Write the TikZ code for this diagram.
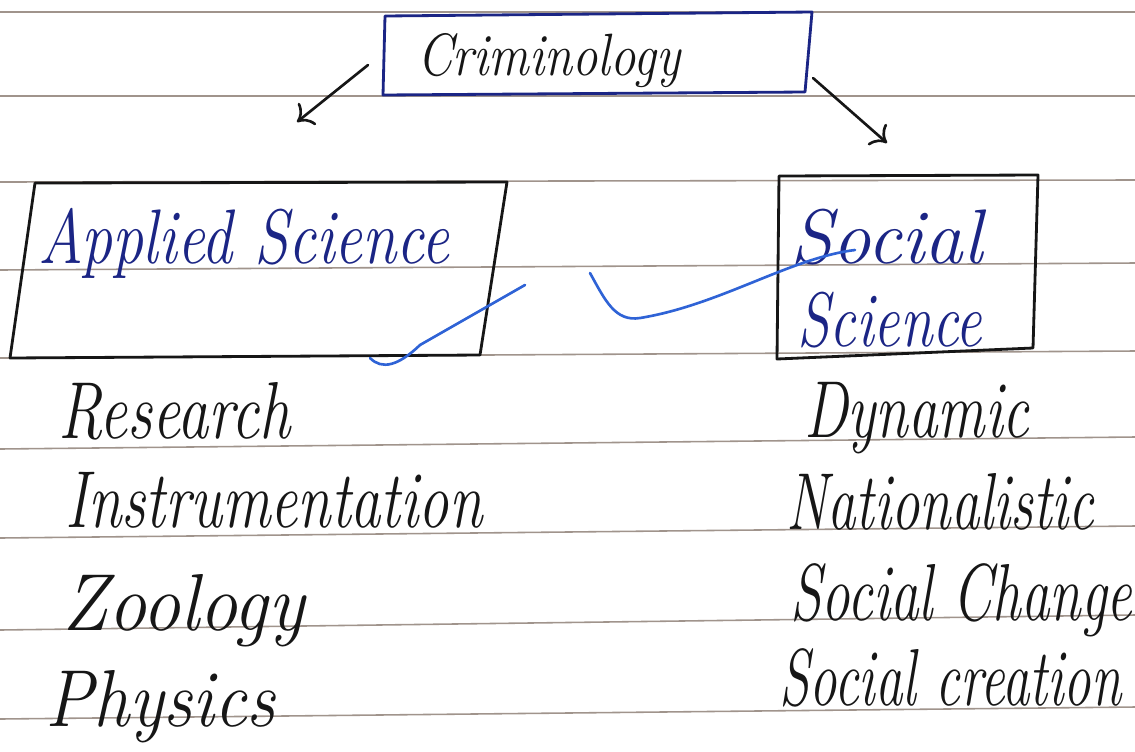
\documentclass[tikz,border=0pt]{standalone}
\usepackage{tikz}
\usepackage{graphicx}
\usetikzlibrary{positioning,arrows.meta}

\definecolor{inkblack}{HTML}{161616}
\definecolor{inknavy}{HTML}{1B2585}
\definecolor{tickblue}{HTML}{2F63D6}
\definecolor{ruling}{HTML}{A0948C}

% squeeze a word to a width given in pixels
\newdimen\pxu \pxu=0.02cm
\newcommand{\hw}[2]{\resizebox{#1\pxu}{\height}{#2}}

\begin{document}
\begin{tikzpicture}[x=0.02cm,y=-0.02cm,line cap=round,line join=round,
  hand/.style={inner sep=0pt,anchor=base west,text=inkblack,
    font=\fontsize{46}{48}\selectfont\itshape},
  title/.style={hand,font=\fontsize{34}{36}\selectfont\itshape},
  boxtext/.style={hand,text=inknavy,font=\fontsize{44}{46}\selectfont\itshape},
  frame/.style={draw=inkblack,line width=1.6pt},
  link/.style={draw=inkblack,line width=1.5pt,-{To[length=8pt,width=16pt,line width=1.5pt]}},
  tick/.style={draw=tickblue,line width=1.5pt}]
\useasboundingbox (0,0) rectangle (1135,751);
\fill[white] (0,0) rectangle (1135,751);

% ruled paper
\foreach \l/\r in {12/12,96/96,182/180,270/263,358/351,449/437,538/526,630/615,719/707}
  \draw[ruling,line width=0.9pt] (0,\l) -- (1135,\r);

% top box
\draw[frame,draw=inknavy] (385,16) -- (812,12) -- (805,92) -- (383,95) -- cycle;
\node[title] (crim) at (417,75) {\hw{263}{Criminology}};

% the two branches
\draw[frame] (35,183) -- (507,182) -- (480,355) -- (10,358) -- cycle;
\node[boxtext] (appl) at (38,263) {\hw{411}{Applied Science}};

\draw[frame] (779,176) -- (1038,175) -- (1033,348) -- (777,359) -- cycle;
\node[boxtext] (soc) at (790,263) {\hw{192}{Social}};
\node[boxtext] (sci) at (797,346) {\hw{185}{Science}};

\coordinate (c1) at (368,65);
\coordinate (c2) at (813,78);
\coordinate (a1) at (297,122);
\coordinate (a2) at (887,143);
\draw[link] (c1) -- (a1);
\draw[link] (c2) -- (a2);

% ticks
\draw[tick] (370,358) .. controls (382,370) and (398,366) .. (420,345) -- (525,285);
\draw[tick] (590,273) .. controls (605,300) and (615,322) .. (640,318)
  .. controls (720,305) and (790,258) .. (855,250);

% lists
\node[hand] (res) at (58,438) {\hw{232}{Research}};
\node[hand] (ins) at (65,527) {\hw{417}{Instrumentation}};
\node[hand] (zoo) at (62,630) {\hw{242}{Zoology}};
\node[hand] (phy) at (45,726) {\hw{230}{Physics}};

\node[hand] (dyn) at (804,437) {\hw{225}{Dynamic}};
\node[hand] (nat) at (786,529) {\hw{308}{Nationalistic}};
\node[hand] (sch) at (790,620) {\hw{342}{Social Change}};
\node[hand] (scr) at (779,705) {\hw{342}{Social creation}};

\end{tikzpicture}
\end{document}
